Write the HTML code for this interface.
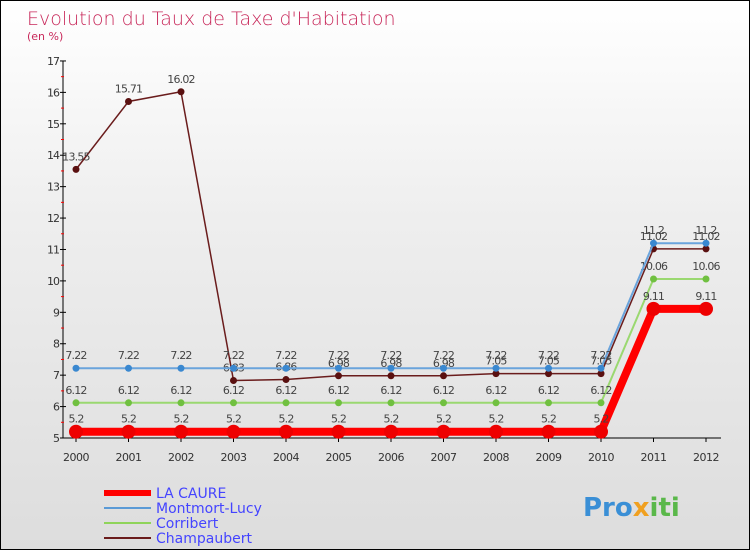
<!DOCTYPE html>
<html><head><meta charset="utf-8"><style>
body{margin:0}
#c{width:750px;height:550px;position:relative;box-sizing:border-box;border:1px solid #000;background:linear-gradient(#fff 0%,#eee 40%,#ddd 100%);font-family:"DejaVu Sans","Liberation Sans",sans-serif;overflow:hidden}
</style></head><body>
<div id="c">
<svg id="s" width="750" height="550" style="position:absolute;left:0;top:0">
<text x="26" y="24" font-size="19" fill="#c8285a" font-family="DejaVu Sans,sans-serif" font-weight="200">Evolution du Taux de Taxe d'Habitation</text>
<text x="26" y="39" font-size="11" fill="#c8285a">(en %)</text>
<g id="axes"></g><g id="series"></g>
<g>
<line x1="103" y1="492" x2="150" y2="492" stroke="#f00" stroke-width="6"/>
<text x="155" y="497" font-size="14" fill="#44f">LA CAURE</text>
<line x1="103" y1="507" x2="150" y2="507" stroke="#5a9ad6" stroke-width="2"/>
<text x="155" y="512" font-size="14" fill="#44f">Montmort-Lucy</text>
<line x1="103" y1="522" x2="150" y2="522" stroke="#8fd45a" stroke-width="2"/>
<text x="155" y="527" font-size="14" fill="#44f">Corribert</text>
<line x1="103" y1="537" x2="150" y2="537" stroke="#6a1c1c" stroke-width="2"/>
<text x="155" y="542" font-size="14" fill="#44f">Champaubert</text>
</g>
<text x="582" y="515" font-size="26" font-weight="bold" fill="#3a8fd6">Pro<tspan fill="#f0a020">x</tspan><tspan fill="#5ab84a">iti</tspan></text>
</svg>
</div>
<script>
const years=[2000,2001,2002,2003,2004,2005,2006,2007,2008,2009,2010,2011,2012];
const yTicks=[5,6,7,8,9,10,11,12,13,14,15,16,17];
const laCaure=[5.2,5.2,5.2,5.2,5.2,5.2,5.2,5.2,5.2,5.2,5.2,9.11,9.11];
const montmort=[7.22,7.22,7.22,7.22,7.22,7.22,7.22,7.22,7.22,7.22,7.22,11.2,11.2];
const corribert=[6.12,6.12,6.12,6.12,6.12,6.12,6.12,6.12,6.12,6.12,6.12,10.06,10.06];
const champaubert=[13.55,15.71,16.02,6.83,6.86,6.98,6.98,6.98,7.05,7.05,7.05,11.02,11.02];
const NS='http://www.w3.org/2000/svg';
const X=i=>75+i*52.5, Y=v=>437-(v-5)*31.42;
function mk(p,t,a){const e=document.createElementNS(NS,t);for(const k in a)e.setAttribute(k,a[k]);p.appendChild(e);return e;}
const ax=document.getElementById('axes'),sg=document.getElementById('series');
let l=mk(ax,'line',{x1:62,y1:Y(17),x2:62,y2:Y(5),stroke:'#000'});

l=mk(ax,'line',{x1:62,y1:Y(5),x2:720,y2:Y(5),stroke:'#000'});

yTicks.forEach(v=>{mk(ax,'line',{x1:59,y1:Y(v),x2:65,y2:Y(v),stroke:'#000'});
 if(v<17)mk(ax,'line',{x1:60,y1:Y(v+0.5),x2:63,y2:Y(v+0.5),stroke:'#f00'});
 const t=mk(ax,'text',{x:58,y:Y(v)+4,'font-size':11,fill:'#333','text-anchor':'end','letter-spacing':'-1'});t.textContent=v;
 });
years.forEach((yr,i)=>{mk(ax,'line',{x1:X(i),y1:Y(5),x2:X(i),y2:Y(5)+4,stroke:'#000'});
 const t=mk(ax,'text',{x:X(i),y:Y(5)+23,'font-size':11,fill:'#333','text-anchor':'middle','letter-spacing':'-0.5'});t.textContent=yr;
 });
function series(d,col,w,r,dot,name){const g=mk(sg,'g',{});
 
 mk(g,'polyline',{points:d.map((v,i)=>X(i)+','+Y(v)).join(' '),fill:'none',stroke:col,'stroke-width':w});
 d.forEach((v,i)=>{const c=mk(g,'circle',{cx:X(i),cy:Y(v),r:r,fill:dot});
  
  const t=mk(g,'text',{x:X(i),y:Y(v)-9,'font-size':11,fill:'#444','text-anchor':'middle','letter-spacing':'-0.8'});t.textContent=v;
  });}
series(champaubert,'#6a1c1c',1.5,3.5,'#5a1010','champaubert');
series(corribert,'#9ad870',2,3.5,'#70c040','corribert');
series(montmort,'#6aa4dc',2,3.5,'#3a88d0','montmort');
series(laCaure,'#f00',8,7,'#e00','la-caure');
</script>
</body></html>
